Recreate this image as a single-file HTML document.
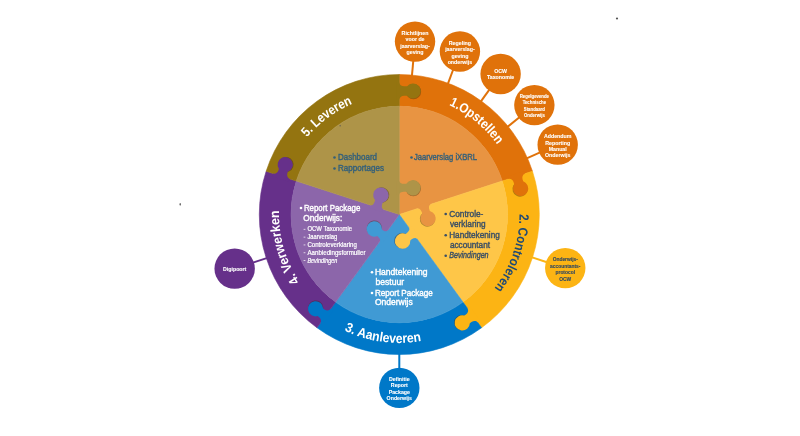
<!DOCTYPE html><html><head><meta charset="utf-8"><style>html,body{margin:0;padding:0;background:#fff;}svg{display:block;font-family:"Liberation Sans",sans-serif;filter:blur(0.4px);}</style></head><body>
<svg width="800" height="436" viewBox="0 0 800 436">
<line x1="411.81" y1="77.07" x2="413.29" y2="60.74" stroke="#E0720A" stroke-width="2"/><circle cx="415.03" cy="41.61" r="20.2" fill="#E0720A"/><text transform="translate(415.03,34.52) scale(0.88,1)" font-size="5.99" font-weight="bold" fill="#fff" stroke="#fff" stroke-width="0.12" text-anchor="middle">Richtlijnen</text><text transform="translate(415.03,41.02) scale(0.88,1)" font-size="5.99" font-weight="bold" fill="#fff" stroke="#fff" stroke-width="0.12" text-anchor="middle">voor de</text><text transform="translate(415.03,47.52) scale(0.88,1)" font-size="5.99" font-weight="bold" fill="#fff" stroke="#fff" stroke-width="0.12" text-anchor="middle">jaarverslag-</text><text transform="translate(415.03,54.02) scale(0.88,1)" font-size="5.99" font-weight="bold" fill="#fff" stroke="#fff" stroke-width="0.12" text-anchor="middle">geving</text>
<line x1="447.40" y1="85.16" x2="453.22" y2="69.50" stroke="#E0720A" stroke-width="2"/><circle cx="459.92" cy="51.51" r="20.2" fill="#E0720A"/><text transform="translate(459.92,44.71) scale(0.88,1)" font-size="5.99" font-weight="bold" fill="#fff" stroke="#fff" stroke-width="0.12" text-anchor="middle">Regeling</text><text transform="translate(459.92,51.21) scale(0.88,1)" font-size="5.99" font-weight="bold" fill="#fff" stroke="#fff" stroke-width="0.12" text-anchor="middle">jaarverslag-</text><text transform="translate(459.92,57.71) scale(0.88,1)" font-size="5.99" font-weight="bold" fill="#fff" stroke="#fff" stroke-width="0.12" text-anchor="middle">geving</text><text transform="translate(459.92,64.21) scale(0.88,1)" font-size="5.99" font-weight="bold" fill="#fff" stroke="#fff" stroke-width="0.12" text-anchor="middle">onderwijs</text>
<line x1="480.02" y1="102.57" x2="489.38" y2="89.60" stroke="#E0720A" stroke-width="2"/><circle cx="500.61" cy="74.02" r="20.2" fill="#E0720A"/><text transform="translate(500.61,72.83) scale(0.88,1)" font-size="5.99" font-weight="bold" fill="#fff" stroke="#fff" stroke-width="0.12" text-anchor="middle">OCW</text><text transform="translate(500.61,78.93) scale(0.88,1)" font-size="5.99" font-weight="bold" fill="#fff" stroke="#fff" stroke-width="0.12" text-anchor="middle">Taxonomie</text>
<line x1="506.55" y1="127.65" x2="519.45" y2="117.21" stroke="#E0720A" stroke-width="2"/><circle cx="534.37" cy="105.12" r="20.2" fill="#E0720A"/><text transform="translate(534.37,98.35) scale(0.88,1)" font-size="4.92" font-weight="bold" fill="#fff" stroke="#fff" stroke-width="0.12" text-anchor="middle">Regelgevende</text><text transform="translate(534.37,104.45) scale(0.88,1)" font-size="4.92" font-weight="bold" fill="#fff" stroke="#fff" stroke-width="0.12" text-anchor="middle">Technische</text><text transform="translate(534.37,110.55) scale(0.88,1)" font-size="4.92" font-weight="bold" fill="#fff" stroke="#fff" stroke-width="0.12" text-anchor="middle">Standaard</text><text transform="translate(534.37,116.65) scale(0.88,1)" font-size="4.92" font-weight="bold" fill="#fff" stroke="#fff" stroke-width="0.12" text-anchor="middle">Onderwijs</text>
<line x1="525.56" y1="158.81" x2="540.11" y2="152.39" stroke="#E0720A" stroke-width="2"/><circle cx="557.68" cy="144.65" r="20.2" fill="#E0720A"/><text transform="translate(557.68,138.20) scale(0.88,1)" font-size="5.99" font-weight="bold" fill="#fff" stroke="#fff" stroke-width="0.12" text-anchor="middle">Addendum</text><text transform="translate(557.68,144.60) scale(0.88,1)" font-size="5.99" font-weight="bold" fill="#fff" stroke="#fff" stroke-width="0.12" text-anchor="middle">Reporting</text><text transform="translate(557.68,151.00) scale(0.88,1)" font-size="5.99" font-weight="bold" fill="#fff" stroke="#fff" stroke-width="0.12" text-anchor="middle">Manual</text><text transform="translate(557.68,157.40) scale(0.88,1)" font-size="5.99" font-weight="bold" fill="#fff" stroke="#fff" stroke-width="0.12" text-anchor="middle">Onderwijs</text>
<line x1="530.62" y1="256.92" x2="546.99" y2="262.20" stroke="#FCB414" stroke-width="2"/><circle cx="565.26" cy="268.10" r="20.2" fill="#FCB414"/><text transform="translate(565.26,261.11) scale(0.88,1)" font-size="5.56" font-weight="bold" fill="#2E4763" stroke="#2E4763" stroke-width="0.12" text-anchor="middle">Onderwijs-</text><text transform="translate(565.26,267.71) scale(0.88,1)" font-size="5.56" font-weight="bold" fill="#2E4763" stroke="#2E4763" stroke-width="0.12" text-anchor="middle">accountants-</text><text transform="translate(565.26,274.31) scale(0.88,1)" font-size="5.56" font-weight="bold" fill="#2E4763" stroke="#2E4763" stroke-width="0.12" text-anchor="middle">protocol</text><text transform="translate(565.26,280.91) scale(0.88,1)" font-size="5.56" font-weight="bold" fill="#2E4763" stroke="#2E4763" stroke-width="0.12" text-anchor="middle">OCW</text>
<line x1="399.30" y1="352.50" x2="399.30" y2="368.70" stroke="#0078C8" stroke-width="2"/><circle cx="399.30" cy="387.90" r="20.2" fill="#0078C8"/><text transform="translate(399.30,380.81) scale(0.88,1)" font-size="5.99" font-weight="bold" fill="#fff" stroke="#fff" stroke-width="0.12" text-anchor="middle">Definitie</text><text transform="translate(399.30,387.31) scale(0.88,1)" font-size="5.99" font-weight="bold" fill="#fff" stroke="#fff" stroke-width="0.12" text-anchor="middle">Report</text><text transform="translate(399.30,393.81) scale(0.88,1)" font-size="5.99" font-weight="bold" fill="#fff" stroke="#fff" stroke-width="0.12" text-anchor="middle">Package</text><text transform="translate(399.30,400.31) scale(0.88,1)" font-size="5.99" font-weight="bold" fill="#fff" stroke="#fff" stroke-width="0.12" text-anchor="middle">Onderwijs</text>
<line x1="268.20" y1="257.60" x2="252.91" y2="262.63" stroke="#66308A" stroke-width="2"/><circle cx="234.67" cy="268.63" r="20.2" fill="#66308A"/><text transform="translate(234.67,270.78) scale(0.88,1)" font-size="5.99" font-weight="bold" fill="#fff" stroke="#fff" stroke-width="0.12" text-anchor="middle">Digipoort</text>
<path d="M399.30,74.50 A140.0,140.0 0 0 1 532.45,171.24 L502.30,181.03 A108.3,108.3 0 0 0 399.30,106.20 Z" fill="#E0720A" stroke="#E0720A" stroke-width="0.6"/>
<path d="M532.45,171.24 A140.0,140.0 0 0 1 481.59,327.76 L462.96,302.12 A108.3,108.3 0 0 0 502.30,181.03 Z" fill="#FCB414" stroke="#FCB414" stroke-width="0.6"/>
<path d="M481.59,327.76 A140.0,140.0 0 0 1 317.01,327.76 L335.64,302.12 A108.3,108.3 0 0 0 462.96,302.12 Z" fill="#0078C8" stroke="#0078C8" stroke-width="0.6"/>
<path d="M317.01,327.76 A140.0,140.0 0 0 1 266.15,171.24 L296.30,181.03 A108.3,108.3 0 0 0 335.64,302.12 Z" fill="#66308A" stroke="#66308A" stroke-width="0.6"/>
<path d="M266.15,171.24 A140.0,140.0 0 0 1 399.30,74.50 L399.30,106.20 A108.3,108.3 0 0 0 296.30,181.03 Z" fill="#947410" stroke="#947410" stroke-width="0.6"/>
<path d="M399.30,214.50 L399.30,106.20 A108.3,108.3 0 0 1 502.30,181.03 Z" fill="#E89442" stroke="#E89442" stroke-width="0.6"/>
<path d="M399.30,214.50 L502.30,181.03 A108.3,108.3 0 0 1 462.96,302.12 Z" fill="#FEC648" stroke="#FEC648" stroke-width="0.6"/>
<path d="M399.30,214.50 L462.96,302.12 A108.3,108.3 0 0 1 335.64,302.12 Z" fill="#409AD4" stroke="#409AD4" stroke-width="0.6"/>
<path d="M399.30,214.50 L335.64,302.12 A108.3,108.3 0 0 1 296.30,181.03 Z" fill="#8C66AA" stroke="#8C66AA" stroke-width="0.6"/>
<path d="M399.30,214.50 L296.30,181.03 A108.3,108.3 0 0 1 399.30,106.20 Z" fill="#AE9448" stroke="#AE9448" stroke-width="0.6"/>
<g transform="translate(399.30,91.00) rotate(0.00)"><circle cx="14.20" cy="0.7" r="7.6" fill="#3a2a10" fill-opacity="0.4"/><path d="M-3,-8.6 L0,-8.6 C0,-6.45 2.15,-4.7 4.80,-4.7 L7.83,-4.7 A7.6,7.6 0 1 1 7.83,4.7 L4.80,4.7 C2.15,4.7 0,6.45 0,8.6 L-3,8.6 Z" fill="#947410"/></g>
<g transform="translate(399.30,187.80) rotate(0.00)"><circle cx="14.00" cy="0.7" r="7.7" fill="#3a2a10" fill-opacity="0.4"/><path d="M-3,-6.6 L0,-6.6 C0,-5.16 2.06,-4.0 4.60,-4.0 L7.02,-4.0 A7.7,7.7 0 1 1 7.02,4.0 L4.60,4.0 C2.06,4.0 0,5.16 0,6.6 L-3,6.6 Z" fill="#AE9448"/></g>
<g transform="translate(516.66,176.37) rotate(72.00)"><circle cx="13.10" cy="0.7" r="7.6" fill="#3a2a10" fill-opacity="0.4"/><path d="M-3,-8.6 L0,-8.6 C0,-6.45 2.15,-4.7 4.80,-4.7 L6.73,-4.7 A7.6,7.6 0 1 1 6.73,4.7 L4.80,4.7 C2.15,4.7 0,6.45 0,8.6 L-3,8.6 Z" fill="#E0720A"/></g>
<g transform="translate(424.12,206.43) rotate(72.00)"><circle cx="13.00" cy="0.7" r="7.7" fill="#3a2a10" fill-opacity="0.4"/><path d="M-3,-6.6 L0,-6.6 C0,-5.16 2.06,-4.0 4.60,-4.0 L6.02,-4.0 A7.7,7.7 0 1 1 6.02,4.0 L4.60,4.0 C2.06,4.0 0,5.16 0,6.6 L-3,6.6 Z" fill="#E89442"/></g>
<g transform="translate(472.60,315.38) rotate(144.00)"><circle cx="13.20" cy="0.7" r="7.6" fill="#3a2a10" fill-opacity="0.4"/><path d="M-3,-8.6 L0,-8.6 C0,-6.45 2.15,-4.7 4.80,-4.7 L6.83,-4.7 A7.6,7.6 0 1 1 6.83,4.7 L4.80,4.7 C2.15,4.7 0,6.45 0,8.6 L-3,8.6 Z" fill="#FCB414"/></g>
<g transform="translate(413.05,233.43) rotate(144.00)"><circle cx="13.30" cy="0.7" r="7.7" fill="#3a2a10" fill-opacity="0.4"/><path d="M-3,-6.6 L0,-6.6 C0,-5.16 2.06,-4.0 4.60,-4.0 L6.32,-4.0 A7.7,7.7 0 1 1 6.32,4.0 L4.60,4.0 C2.06,4.0 0,5.16 0,6.6 L-3,6.6 Z" fill="#FEC648"/></g>
<g transform="translate(325.53,316.03) rotate(216.00)"><circle cx="12.70" cy="0.7" r="7.6" fill="#3a2a10" fill-opacity="0.4"/><path d="M-3,-8.6 L0,-8.6 C0,-6.45 2.15,-4.7 4.80,-4.7 L6.33,-4.7 A7.6,7.6 0 1 1 6.33,4.7 L4.80,4.7 C2.15,4.7 0,6.45 0,8.6 L-3,8.6 Z" fill="#0078C8"/></g>
<g transform="translate(383.78,235.86) rotate(216.00)"><circle cx="12.10" cy="0.7" r="7.7" fill="#3a2a10" fill-opacity="0.4"/><path d="M-3,-6.6 L0,-6.6 C0,-5.16 2.06,-4.0 4.60,-4.0 L5.12,-4.0 A7.7,7.7 0 1 1 5.12,4.0 L4.60,4.0 C2.06,4.0 0,5.16 0,6.6 L-3,6.6 Z" fill="#409AD4"/></g>
<g transform="translate(281.46,176.21) rotate(288.00)"><circle cx="12.50" cy="0.7" r="7.6" fill="#3a2a10" fill-opacity="0.4"/><path d="M-3,-8.6 L0,-8.6 C0,-6.45 2.15,-4.7 4.80,-4.7 L6.13,-4.7 A7.6,7.6 0 1 1 6.13,4.7 L4.80,4.7 C2.15,4.7 0,6.45 0,8.6 L-3,8.6 Z" fill="#66308A"/></g>
<g transform="translate(376.95,207.24) rotate(288.00)"><circle cx="13.10" cy="0.7" r="7.7" fill="#3a2a10" fill-opacity="0.4"/><path d="M-3,-6.6 L0,-6.6 C0,-5.16 2.06,-4.0 4.60,-4.0 L6.12,-4.0 A7.7,7.7 0 1 1 6.12,4.0 L4.60,4.0 C2.06,4.0 0,5.16 0,6.6 L-3,6.6 Z" fill="#8C66AA"/></g>
<defs>
<path id="cw" d="M399.30,94.30 A120.2,120.2 0 1 1 399.30,334.70 A120.2,120.2 0 1 1 399.30,94.30"/>
<path id="cw2" d="M399.30,334.70 A120.2,120.2 0 1 1 399.30,94.30 A120.2,120.2 0 1 1 399.30,334.70"/>
<path id="ccw" d="M399.30,86.10 A128.4,128.4 0 1 0 399.30,342.90 A128.4,128.4 0 1 0 399.30,86.10"/>
</defs>
<text font-size="13.4" font-weight="bold" fill="#fff"><textPath href="#cw" startOffset="10.972%" text-anchor="middle" textLength="63" lengthAdjust="spacingAndGlyphs">1.Opstellen</textPath></text>
<text font-size="13.4" font-weight="bold" fill="#1F4A75"><textPath href="#cw" startOffset="30.222%" text-anchor="middle" textLength="80" lengthAdjust="spacingAndGlyphs">2. Controleren</textPath></text>
<text font-size="13.4" font-weight="bold" fill="#fff"><textPath href="#cw2" startOffset="20.556%" text-anchor="middle" textLength="75" lengthAdjust="spacingAndGlyphs">4. Verwerken</textPath></text>
<text font-size="13.4" font-weight="bold" fill="#fff"><textPath href="#cw2" startOffset="39.861%" text-anchor="middle" textLength="57" lengthAdjust="spacingAndGlyphs">5. Leveren</textPath></text>
<text font-size="13.4" font-weight="bold" fill="#fff"><textPath href="#ccw" startOffset="47.861%" text-anchor="middle" textLength="79" lengthAdjust="spacingAndGlyphs">3. Aanleveren</textPath></text>
<circle cx="334.5" cy="157.5" r="1.3" fill="#34607A"/><text x="338" y="160" font-size="8.6" fill="#34607A" stroke="#34607A" stroke-width="0.4" textLength="39" lengthAdjust="spacingAndGlyphs">Dashboard</text>
<circle cx="334.5" cy="168.5" r="1.3" fill="#34607A"/><text x="338" y="171" font-size="8.6" fill="#34607A" stroke="#34607A" stroke-width="0.4" textLength="46" lengthAdjust="spacingAndGlyphs">Rapportages</text>
<circle cx="411.5" cy="157.5" r="1.3" fill="#34607A"/><text x="414" y="160" font-size="8.6" fill="#34607A" stroke="#34607A" stroke-width="0.4" textLength="63" lengthAdjust="spacingAndGlyphs">Jaarverslag iXBRL</text>
<circle cx="445.7" cy="214" r="1.3" fill="#3A4F66"/><text x="449.2" y="216.6" font-size="8.8" fill="#3A4F66" stroke="#3A4F66" stroke-width="0.4" textLength="34.2" lengthAdjust="spacingAndGlyphs">Controle-</text>
<text x="449.9" y="226.6" font-size="8.8" fill="#3A4F66" stroke="#3A4F66" stroke-width="0.4" textLength="35.8" lengthAdjust="spacingAndGlyphs">verklaring</text>
<circle cx="445.7" cy="235.2" r="1.3" fill="#3A4F66"/><text x="449.2" y="237.8" font-size="8.8" fill="#3A4F66" stroke="#3A4F66" stroke-width="0.4" textLength="50.6" lengthAdjust="spacingAndGlyphs">Handtekening</text>
<text x="449.9" y="247.8" font-size="8.8" fill="#3A4F66" stroke="#3A4F66" stroke-width="0.4" textLength="40.1" lengthAdjust="spacingAndGlyphs">accountant</text>
<circle cx="445.7" cy="255.8" r="1.3" fill="#3A4F66"/><text x="449.2" y="258.4" font-size="8.8" fill="#3A4F66" stroke="#3A4F66" stroke-width="0.4" font-style="italic" textLength="39.4" lengthAdjust="spacingAndGlyphs">Bevindingen</text>
<circle cx="372" cy="272.2" r="1.3" fill="#fff"/><text x="374.9" y="274.7" font-size="8.6" fill="#fff" stroke="#fff" stroke-width="0.4" textLength="52.7" lengthAdjust="spacingAndGlyphs">Handtekening</text>
<text x="375.5" y="284.6" font-size="8.6" fill="#fff" stroke="#fff" stroke-width="0.4" textLength="28.6" lengthAdjust="spacingAndGlyphs">bestuur</text>
<circle cx="372" cy="293" r="1.3" fill="#fff"/><text x="374.9" y="295.5" font-size="8.6" fill="#fff" stroke="#fff" stroke-width="0.4" textLength="57.9" lengthAdjust="spacingAndGlyphs">Report Package</text>
<text x="374.9" y="305.3" font-size="8.6" fill="#fff" stroke="#fff" stroke-width="0.4" textLength="37.8" lengthAdjust="spacingAndGlyphs">Onderwijs</text>
<circle cx="301" cy="208" r="1.3" fill="#fff"/><text x="303.9" y="210.5" font-size="8.8" fill="#fff" stroke="#fff" stroke-width="0.4" textLength="56.5" lengthAdjust="spacingAndGlyphs">Report Package</text>
<text x="303.3" y="221.2" font-size="8.8" fill="#fff" stroke="#fff" stroke-width="0.4" textLength="39" lengthAdjust="spacingAndGlyphs">Onderwijs:</text>
<rect x="303.6" y="228.90" width="1.8" height="0.7" fill="#fff"/>
<text x="307.4" y="231.20" font-size="6.4" fill="#fff" stroke="#fff" stroke-width="0.2" textLength="44.7" lengthAdjust="spacingAndGlyphs">OCW Taxonomie</text>
<rect x="303.6" y="236.75" width="1.8" height="0.7" fill="#fff"/>
<text x="307.4" y="239.05" font-size="6.4" fill="#fff" stroke="#fff" stroke-width="0.2" textLength="29.8" lengthAdjust="spacingAndGlyphs">Jaarverslag</text>
<rect x="303.6" y="244.60" width="1.8" height="0.7" fill="#fff"/>
<text x="307.4" y="246.90" font-size="6.4" fill="#fff" stroke="#fff" stroke-width="0.2" textLength="49.5" lengthAdjust="spacingAndGlyphs">Controleverklaring</text>
<rect x="303.6" y="252.45" width="1.8" height="0.7" fill="#fff"/>
<text x="307.4" y="254.75" font-size="6.4" fill="#fff" stroke="#fff" stroke-width="0.2" textLength="58.1" lengthAdjust="spacingAndGlyphs">Aanbiedingsformulier</text>
<rect x="303.6" y="260.30" width="1.8" height="0.7" fill="#fff"/>
<text x="307.4" y="262.60" font-size="6.4" fill="#fff" stroke="#fff" stroke-width="0.2" font-style="italic" textLength="29.8" lengthAdjust="spacingAndGlyphs">Bevindingen</text>
<circle cx="617" cy="18.5" r="1.1" fill="#555"/>
<circle cx="340.2" cy="125.7" r="0.8" fill="#555" fill-opacity="0.7"/>
<ellipse cx="180.2" cy="204.3" rx="0.7" ry="1.4" fill="#666"/>
</svg></body></html>
